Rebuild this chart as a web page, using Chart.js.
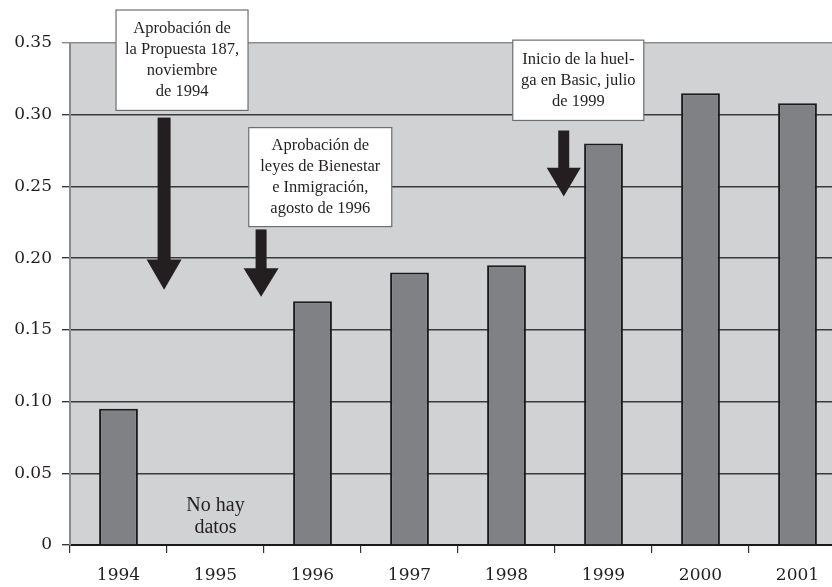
<!DOCTYPE html>
<html>
<head>
<meta charset="utf-8">
<script src="https://cdn.jsdelivr.net/npm/chart.js@4.4.0/dist/chart.umd.min.js"></script>
<style>
  html, body { margin: 0; padding: 0; background: #fff; overflow: hidden; }
  #wrap { width: 832px; height: 587px; overflow: hidden; }
</style>
</head>
<body>
<div id="wrap"><canvas id="chart" width="848" height="587"></canvas></div>
<script>
// data
const years = ['1994', '1995', '1996', '1997', '1998', '1999', '2000', '2001'];
const values = [0.095, null, 0.17, 0.19, 0.195, 0.28, 0.315, 0.308];
const yTicks = [0, 0.05, 0.10, 0.15, 0.20, 0.25, 0.30, 0.35];

// notes: x in category units, y in data units
const notes = [
  { lines: ['Aprobación de', 'la Propuesta 187,', 'noviembre', 'de 1994'], x: 0.655, top: 0.373, bottom: 0.303, w: 132 },
  { lines: ['Aprobación de', 'leyes de Bienestar', 'e Inmigración,', 'agosto de 1996'], x: 2.08, top: 0.291, bottom: 0.222, w: 143 },
  { lines: ['Inicio de la huel-', 'ga en Basic, julio', 'de 1999'], x: 4.74, top: 0.352, bottom: 0.296, w: 131 }
];
const arrows = [
  { x: 0.47, top: 0.298, head: 0.199, tip: 0.178, shaft: 13, headW: 35 },
  { x: 1.47, top: 0.220, head: 0.193, tip: 0.173, shaft: 11, headW: 35 },
  { x: 4.59, top: 0.289, head: 0.263, tip: 0.243, shaft: 11, headW: 34 }
];
const noData = { lines: ['No hay', 'datos'], x: 1.0, y: 0.020 };

const serif = '"Liberation Serif", "DejaVu Serif", serif';
const tickSerif = '"DejaVu Serif", "Liberation Serif", serif';

const plotBg = {
  id: 'plotBg',
  beforeDraw(chart) {
    const a = chart.chartArea, c = chart.ctx;
    c.save();
    c.fillStyle = '#d1d2d4';
    c.fillRect(a.left, a.top, a.right - a.left, a.bottom - a.top);
    c.restore();
  }
};

const notesPlugin = {
  id: 'notes',
  afterDraw(chart) {
    const c = chart.ctx, xs = chart.scales.x, ys = chart.scales.y;
    c.save();
    // arrows
    c.fillStyle = '#231f20';
    arrows.forEach(a => {
      const x = xs.getPixelForValue(a.x);
      const yt = ys.getPixelForValue(a.top), yh = ys.getPixelForValue(a.head), yp = ys.getPixelForValue(a.tip);
      c.fillRect(x - a.shaft / 2, yt, a.shaft, yh - yt + 1);
      c.beginPath();
      c.moveTo(x - a.headW / 2, yh);
      c.lineTo(x + a.headW / 2, yh);
      c.lineTo(x, yp);
      c.closePath();
      c.fill();
    });
    // boxes
    c.font = '16.5px ' + serif;
    c.textAlign = 'center';
    c.textBaseline = 'middle';
    notes.forEach(n => {
      const cx = xs.getPixelForValue(n.x);
      const t = ys.getPixelForValue(n.top), b = ys.getPixelForValue(n.bottom);
      c.fillStyle = '#fff';
      c.fillRect(cx - n.w / 2, t, n.w, b - t);
      c.strokeStyle = '#6d6e71';
      c.lineWidth = 1.2;
      c.strokeRect(cx - n.w / 2, t, n.w, b - t);
      c.fillStyle = '#231f20';
      const lh = 21;
      const y0 = (t + b) / 2 - (n.lines.length - 1) * lh / 2;
      n.lines.forEach((l, i) => c.fillText(l, cx, y0 + i * lh));
    });
    // no data label
    c.font = '20px ' + serif;
    const nx = xs.getPixelForValue(noData.x), ny = ys.getPixelForValue(noData.y);
    noData.lines.forEach((l, i) => c.fillText(l, nx, ny - 11 + i * 22));
    c.restore();
  }
};

new Chart(document.getElementById('chart'), {
  type: 'bar',
  data: {
    labels: years,
    datasets: [{
      data: values,
      backgroundColor: '#808184',
      borderColor: '#1a1a1a',
      borderWidth: 2,
      borderSkipped: 'bottom',
      barPercentage: 0.4,
      categoryPercentage: 1.0
    }]
  },
  options: {
    responsive: false,
    animation: false,
    layout: { padding: { top: 43, right: 2, left: 0, bottom: 0 } },
    plugins: { legend: { display: false }, tooltip: { enabled: false } },
    scales: {
      x: {
        offset: true,
        grid: { offset: true, drawOnChartArea: false, color: '#333', tickLength: 8, lineWidth: 1.2 },
        border: { color: '#1a1a1a', width: 2 },
        ticks: { color: '#231f20', font: { family: tickSerif, size: 17 }, padding: 12 },
        afterFit(s) { s.height = 42; }
      },
      y: {
        min: 0,
        max: 0.35,
        afterBuildTicks(s) { s.ticks = yTicks.map(v => ({ value: v })); },
        grid: {
          color: ctx => ctx.tick && ctx.tick.value === 0.35 ? '#8a8b8d' : '#3a3a3a',
          lineWidth: 1.4,
          tickLength: 8
        },
        border: { color: '#8a8b8d', width: 2 },
        ticks: {
          color: '#231f20',
          font: { family: tickSerif, size: 17 },
          padding: 10,
          callback: v => v === 0 ? '0' : v.toFixed(2)
        },
        afterFit(s) { s.width = 70; }
      }
    }
  },
  plugins: [plotBg, notesPlugin]
});
</script>
</body>
</html>
